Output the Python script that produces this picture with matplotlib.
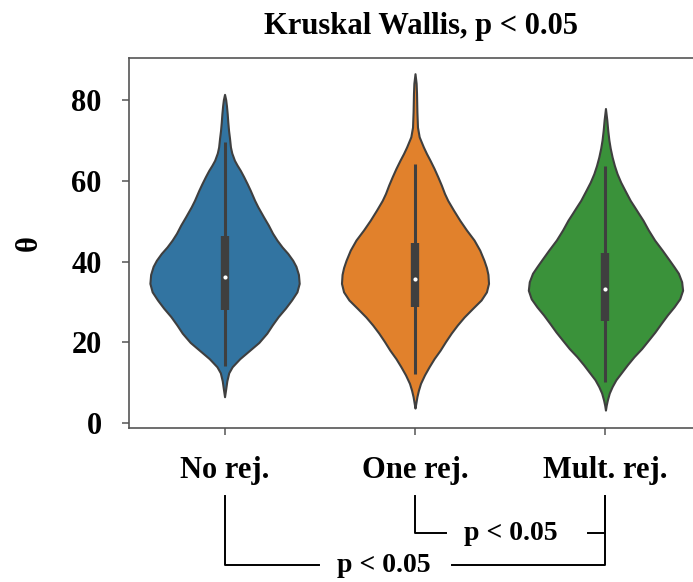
import matplotlib
matplotlib.use("Agg")
import matplotlib.pyplot as plt
import matplotlib.transforms as mtransforms
import numpy as np

# ── Data ─────────────────────────────────────────────────────────────────────
groups = ["No rej.", "One rej.", "Mult. rej."]
colors = ["#3274a1", "#e1812c", "#3a923a"]

# density profile of each violin: theta level -> half width (data units)
blue_y = [6.6, 8.5, 10.5, 12.5, 14, 16, 18, 20, 22.3, 24.3, 26.4, 28.5, 30.5,
          32.5, 34.6, 36.8, 38.8, 40.3, 42, 43.6, 45.3, 47, 49, 51, 53.5, 55.1,
          57.6, 59.3, 61, 62.5, 63.8, 65, 66.8, 68.3, 70.5, 72.4, 74.5, 76.5,
          78.5, 80, 81.3]
blue_w = [0, 0.006, 0.012, 0.022, 0.04, 0.08, 0.13, 0.18, 0.222, 0.25, 0.282,
          0.32, 0.352, 0.38, 0.392, 0.388, 0.375, 0.358, 0.332, 0.302, 0.275,
          0.252, 0.23, 0.205, 0.175, 0.158, 0.135, 0.118, 0.1, 0.083, 0.066,
          0.052, 0.038, 0.031, 0.026, 0.021, 0.017, 0.014, 0.01, 0.006, 0]

orange_y = [3.8, 5.2, 6.6, 8.2, 9.9, 12, 14, 16, 18.1, 20.2, 22.3, 24.3, 26.3,
            28.4, 30.5, 32.5, 34.6, 36.8, 38.5, 40.3, 42.8, 45.3, 47.8, 50.2,
            52.7, 55.1, 56.8, 58.9, 60.9, 63, 65, 66.7, 68.3, 70.8, 73.2, 77,
            81.5, 84, 86.4]
orange_w = [0, 0.005, 0.01, 0.018, 0.029, 0.05, 0.074, 0.1, 0.132, 0.16, 0.19,
            0.222, 0.258, 0.302, 0.347, 0.375, 0.386, 0.383, 0.375, 0.362, 0.34,
            0.31, 0.27, 0.235, 0.202, 0.172, 0.155, 0.138, 0.12, 0.1, 0.079,
            0.06, 0.044, 0.022, 0.013, 0.01, 0.008, 0.006, 0]

green_y = [3.3, 4.5, 5.8, 7.5, 9.1, 10.8, 12.4, 14.5, 16.5, 18.5, 20.6, 22.6,
           24.7, 26.8, 28.8, 30.8, 32.9, 35, 37.1, 38.7, 40.3, 42.8, 45.3, 47.8,
           50.2, 51.8, 53.5, 55.1, 57.6, 59.6, 61.7, 63.7, 65.8, 68, 70, 72.4,
           75, 77.8]
green_w = [0, 0.004, 0.01, 0.02, 0.035, 0.055, 0.081, 0.115, 0.15, 0.19, 0.226,
           0.26, 0.292, 0.325, 0.36, 0.39, 0.405, 0.4, 0.383, 0.36, 0.336, 0.298,
           0.258, 0.225, 0.197, 0.175, 0.152, 0.13, 0.102, 0.08, 0.061, 0.047,
           0.035, 0.025, 0.018, 0.012, 0.007, 0]

profiles_y = [blue_y, orange_y, green_y]
profiles_w = [blue_w, orange_w, green_w]

medians = [36.2, 35.8, 33.3]
q1 = [27.9, 28.7, 25.3]
q3 = [46.2, 44.5, 42.1]
whisk_lo = [14.1, 12.2, 10.2]
whisk_hi = [69.5, 64.0, 63.7]

title = "Kruskal Wallis, p < 0.05"
ylabel = "θ"
yticks = [0, 20, 40, 60, 80]

# pairwise comparisons: (left group, right group, label)
comparisons = [(1, 2, "p < 0.05"), (0, 2, "p < 0.05")]

# ── Style ────────────────────────────────────────────────────────────────────
FONT = "Liberation Serif"
FS = 22
GRAY = "#3f3f3f"
SPINE = "#555555"

plt.rcParams["font.family"] = [FONT, "DejaVu Serif"]
plt.rcParams["font.weight"] = "bold"

fig = plt.figure(figsize=(6.93, 5.82), dpi=100)
ax = fig.add_axes([0.1866, 0.2641, 0.8245, 0.6371])

# ── Violins ──────────────────────────────────────────────────────────────────
positions = np.arange(len(groups))
vpstats = []
for ys, ws, med in zip(profiles_y, profiles_w, medians):
    vpstats.append({
        "coords": np.array(ys), "vals": np.array(ws),
        "mean": med, "median": med, "min": ys[0], "max": ys[-1],
    })
widths = [2 * max(ws) for ws in profiles_w]
parts = ax.violin(vpstats, positions=positions, widths=widths,
                  showmeans=False, showextrema=False, showmedians=False)
for body, c in zip(parts["bodies"], colors):
    body.set_facecolor(c)
    body.set_edgecolor(GRAY)
    body.set_linewidth(1.5)
    body.set_alpha(1)

# inner box
ax.vlines(positions, whisk_lo, whisk_hi, color=GRAY, linewidth=2.2, zorder=3)
ax.vlines(positions, q1, q3, color=GRAY, linewidth=6, zorder=3)
ax.scatter(positions, medians, s=9, color="white", zorder=4, linewidths=0)

# ── Axes ─────────────────────────────────────────────────────────────────────
ax.set_xlim(-0.5, 2.5)
ax.set_ylim(-1.2, 90.4)
ax.set_xticks(positions)
ax.set_xticklabels(groups, fontsize=FS, fontweight="bold")
ax.set_yticks(yticks)
ax.set_yticklabels([str(t) for t in yticks], fontsize=FS, fontweight="bold")
ax.tick_params(axis="y", length=5, width=1.1, color=SPINE, pad=15)
ax.tick_params(axis="x", length=5, width=1.1, color=SPINE, pad=15)
for s in ax.spines.values():
    s.set_color(SPINE)
    s.set_linewidth(1.2)
ax.set_ylabel(ylabel, fontsize=FS, fontweight="bold", labelpad=20)
ax.set_title(title, fontsize=FS, fontweight="bold", pad=17, x=0.51)

# ── Comparison brackets under the axis ───────────────────────────────────────
trans = mtransforms.blended_transform_factory(ax.transData, ax.transAxes)
top = -0.183
levels = [-0.283, -0.370]
gaps = [(1.163, 1.504, 1.909), (0.494, 0.836, 1.193)]
for (a, b, lab), lvl, (g0, tx, g1) in zip(comparisons, levels, gaps):
    kw = dict(color="black", linewidth=1.4, transform=trans, clip_on=False)
    ax.plot([a, a, g0], [top, lvl, lvl], **kw)
    ax.plot([g1, b, b], [lvl, lvl, top], **kw)
    ax.text(tx, lvl, lab, transform=trans, ha="center", va="center",
            fontsize=FS - 2, fontweight="bold")

fig.savefig("out.png", dpi=100)
